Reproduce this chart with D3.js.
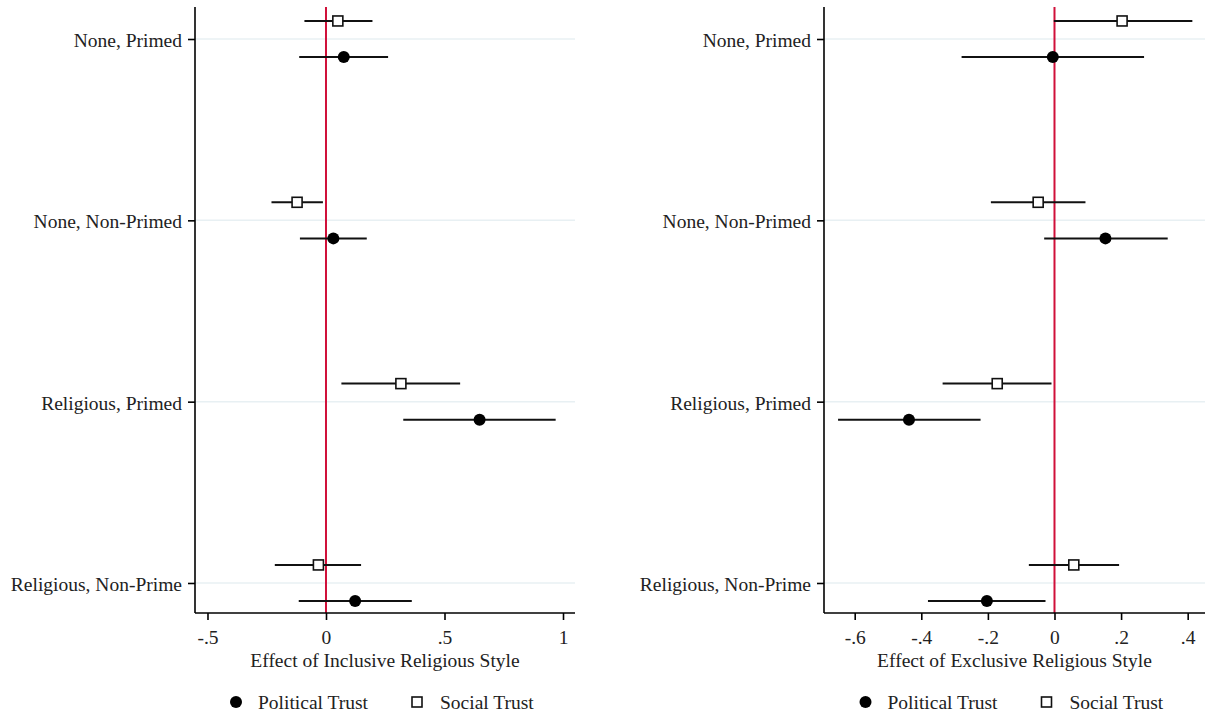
<!DOCTYPE html>
<html>
<head>
<meta charset="utf-8">
<script src="https://cdn.jsdelivr.net/npm/d3@7"></script>
<style>
  html, body { margin: 0; padding: 0; background: #fff; }
  svg text { font-family: "Liberation Serif", "DejaVu Serif", serif; fill: #222; }
</style>
</head>
<body>
<svg id="chart" width="1212" height="717"></svg>
<script>
// ---- data ----
const categories = ["None, Primed", "None, Non-Primed", "Religious, Primed", "Religious, Non-Prime"];

const inclPolitical   = [0.075, 0.031, 0.648, 0.123];
const inclPoliticalLo = [-0.113, -0.110, 0.326, -0.115];
const inclPoliticalHi = [0.262, 0.172, 0.969, 0.362];
const inclSocial      = [0.050, -0.122, 0.316, -0.032];
const inclSocialLo    = [-0.091, -0.230, 0.065, -0.216];
const inclSocialHi    = [0.196, -0.013, 0.566, 0.148];

const exclPolitical   = [-0.005, 0.153, -0.437, -0.203];
const exclPoliticalLo = [-0.279, -0.031, -0.650, -0.380];
const exclPoliticalHi = [0.269, 0.340, -0.222, -0.027];
const exclSocial      = [0.203, -0.049, -0.172, 0.058];
const exclSocialLo    = [-0.002, -0.191, -0.336, -0.077];
const exclSocialHi    = [0.414, 0.093, -0.009, 0.194];

const inclTicks = [-0.5, 0, 0.5, 1];
const inclTickLabels = ["-.5", "0", ".5", "1"];
const exclTicks = [-0.6, -0.4, -0.2, 0, 0.2, 0.4];
const exclTickLabels = ["-.6", "-.4", "-.2", "0", ".2", ".4"];

const seriesNames = ["Political Trust", "Social Trust"];
const axisTitles = ["Effect of Inclusive Religious Style", "Effect of Exclusive Religious Style"];

// ---- drawing ----
const svg = d3.select("#chart");
const FONT = 19.5;
const plotTop = 7, plotBottom = 613;

const y = d3.scaleLinear().domain([-0.1765, 3.1655]).range([plotTop, plotBottom]);
const OFF = 0.0995;

function panel(cfg) {
  const g = svg.append("g");
  const x = d3.scaleLinear().domain(cfg.domain).range([cfg.left, cfg.right]);

  // gridlines
  g.selectAll("line.grid").data(categories).join("line")
    .attr("x1", cfg.left).attr("x2", cfg.right)
    .attr("y1", (d, i) => y(i)).attr("y2", (d, i) => y(i))
    .attr("stroke", "#e8f0f3").attr("stroke-width", 1.5);

  // zero line
  g.append("line")
    .attr("x1", x(0)).attr("x2", x(0))
    .attr("y1", plotTop).attr("y2", plotBottom)
    .attr("stroke", "#d0103a").attr("stroke-width", 2);

  // y axis
  const yAxis = d3.axisLeft(y).tickValues(d3.range(categories.length))
    .tickFormat(i => categories[i]).tickSize(7).tickPadding(6);
  const ya = g.append("g").attr("transform", `translate(${cfg.left},0)`).call(yAxis);
  ya.select(".domain").attr("d", `M0,${plotTop}V${plotBottom}`).attr("stroke", "#000").attr("stroke-width", 1.6);
  ya.selectAll(".tick line").attr("stroke", "#000").attr("stroke-width", 1.6);
  ya.selectAll(".tick text").attr("font-size", FONT).attr("fill", "#222").attr("dy", "0.38em")
    .attr("font-family", '"Liberation Serif", serif');

  // x axis
  const xAxis = d3.axisBottom(x).tickValues(cfg.ticks)
    .tickFormat((d, i) => cfg.tickLabels[i]).tickSize(7).tickPadding(10);
  const xa = g.append("g").attr("transform", `translate(0,${plotBottom})`).call(xAxis);
  xa.select(".domain").attr("d", `M${cfg.left},0H${cfg.right}`).attr("stroke", "#000").attr("stroke-width", 1.6);
  xa.selectAll(".tick line").attr("stroke", "#000").attr("stroke-width", 1.6);
  xa.selectAll(".tick text").attr("font-size", FONT).attr("fill", "#222")
    .attr("font-family", '"Liberation Serif", serif');

  const cx = (cfg.left + cfg.right) / 2;
  g.append("text").attr("x", cx).attr("y", 667).attr("text-anchor", "middle")
    .attr("font-size", FONT).text(cfg.title);

  // social trust (square, above)
  g.selectAll("line.soc").data(cfg.social).join("line")
    .attr("x1", (d, i) => x(cfg.socialLo[i])).attr("x2", (d, i) => x(cfg.socialHi[i]))
    .attr("y1", (d, i) => y(i - OFF)).attr("y2", (d, i) => y(i - OFF))
    .attr("stroke", "#111").attr("stroke-width", 2);
  g.selectAll("rect.soc").data(cfg.social).join("rect")
    .attr("x", d => x(d) - 5).attr("y", (d, i) => y(i - OFF) - 5)
    .attr("width", 10).attr("height", 10)
    .attr("fill", "#fff").attr("stroke", "#111").attr("stroke-width", 1.6);

  // political trust (circle, below)
  g.selectAll("line.pol").data(cfg.political).join("line")
    .attr("x1", (d, i) => x(cfg.politicalLo[i])).attr("x2", (d, i) => x(cfg.politicalHi[i]))
    .attr("y1", (d, i) => y(i + OFF)).attr("y2", (d, i) => y(i + OFF))
    .attr("stroke", "#111").attr("stroke-width", 2);
  g.selectAll("circle.pol").data(cfg.political).join("circle")
    .attr("cx", d => x(d)).attr("cy", (d, i) => y(i + OFF)).attr("r", 6)
    .attr("fill", "#000");

  // legend
  const ly = 702;
  g.append("circle").attr("cx", cx - 149).attr("cy", ly).attr("r", 6).attr("fill", "#000");
  g.append("text").attr("x", cx - 127).attr("y", ly).attr("dy", "0.35em")
    .attr("font-size", FONT).text(seriesNames[0]);
  g.append("rect").attr("x", cx + 32 - 5).attr("y", ly - 5).attr("width", 10).attr("height", 10)
    .attr("fill", "#fff").attr("stroke", "#111").attr("stroke-width", 1.6);
  g.append("text").attr("x", cx + 55).attr("y", ly).attr("dy", "0.35em")
    .attr("font-size", FONT).text(seriesNames[1]);
}

panel({
  left: 195, right: 575, domain: [-0.5527, 1.0506],
  ticks: inclTicks, tickLabels: inclTickLabels, title: axisTitles[0],
  political: inclPolitical, politicalLo: inclPoliticalLo, politicalHi: inclPoliticalHi,
  social: inclSocial, socialLo: inclSocialLo, socialHi: inclSocialHi
});
panel({
  left: 824, right: 1205, domain: [-0.6922, 0.452],
  ticks: exclTicks, tickLabels: exclTickLabels, title: axisTitles[1],
  political: exclPolitical, politicalLo: exclPoliticalLo, politicalHi: exclPoliticalHi,
  social: exclSocial, socialLo: exclSocialLo, socialHi: exclSocialHi
});
</script>
</body>
</html>
